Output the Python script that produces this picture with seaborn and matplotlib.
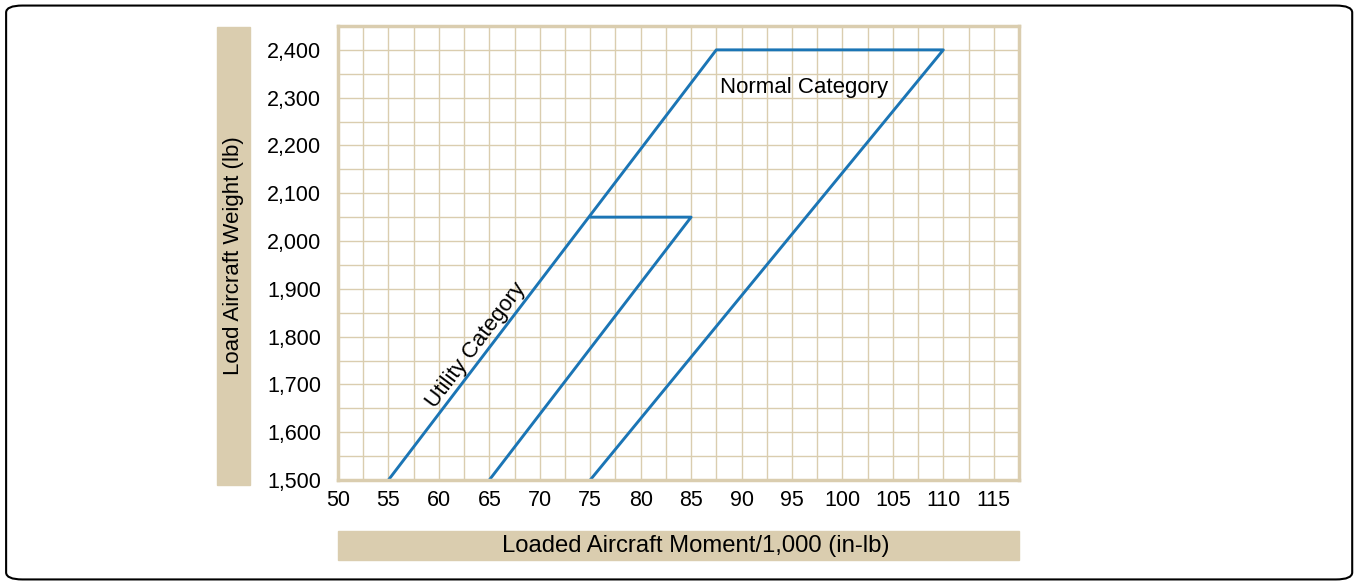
import pandas as pd
import matplotlib.pyplot as plt
import seaborn as sns
from matplotlib.patches import FancyBboxPatch, Rectangle

# envelope corners (moment/1000, weight)
normal_x = [55, 87.5, 110, 75]
normal_y = [1500, 2400, 2400, 1500]
utility_x = [75, 85, 65]
utility_y = [2050, 2050, 1500]

x_ticks = [50, 55, 60, 65, 70, 75, 80, 85, 90, 95, 100, 105, 110, 115]
y_ticks = [1500, 1600, 1700, 1800, 1900, 2000, 2100, 2200, 2300, 2400]

tan = '#dacdaf'
blue = '#1b75b5'

df = pd.concat([
    pd.DataFrame({'x': normal_x, 'y': normal_y, 'seg': 'normal'}),
    pd.DataFrame({'x': utility_x, 'y': utility_y, 'seg': 'utility'}),
])

sns.set_style('white')
plt.rcParams['font.family'] = ['Liberation Sans', 'DejaVu Sans']
plt.rcParams['text.color'] = 'black'

fig = plt.figure(figsize=(13.59, 5.85), dpi=100)
ax = fig.add_axes([0.2487, 0.1795, 0.5011, 0.7761])

sns.lineplot(data=df, x='x', y='y', units='seg', estimator=None, sort=False,
             color=blue, linewidth=2.1, ax=ax)

ax.set_xlim(50, 117.5)
ax.set_ylim(1500, 2450)
ax.set_xticks(x_ticks)
ax.set_yticks(y_ticks)
ax.set_yticklabels([f'{v:,}' for v in y_ticks])
ax.set_xticks([x + 2.5 for x in x_ticks], minor=True)
ax.set_yticks([y + 50 for y in y_ticks], minor=True)
ax.grid(True, which='both', color=tan, linewidth=1.0)
ax.set_axisbelow(True)
for s in ax.spines.values():
    s.set_color(tan)
    s.set_linewidth(2.5)
ax.tick_params(which='both', length=0, labelsize=15.5, labelcolor='black')
ax.tick_params(axis='y', pad=12)
ax.tick_params(axis='x', pad=7)
ax.set_xlabel('')
ax.set_ylabel('')

ax.text(96.2, 2322, 'Normal Category', fontsize=16, ha='center', va='center')
ax.text(63.7, 1782, 'Utility Category', fontsize=16, ha='center', va='center',
        rotation=53, rotation_mode='anchor')

# label boxes
fig.patches.append(Rectangle((0.1597, 0.171), 0.0243, 0.783, transform=fig.transFigure,
                             color=tan, zorder=0))
fig.text(0.1718, 0.5624, 'Load Aircraft Weight (lb)', rotation=90, fontsize=16,
         ha='center', va='center')
fig.patches.append(Rectangle((0.2487, 0.0427), 0.5011, 0.0496, transform=fig.transFigure,
                             color=tan, zorder=0))
fig.text(0.512, 0.0675, 'Loaded Aircraft Moment/1,000 (in-lb)', fontsize=17.2,
         ha='center', va='center')

# outer rounded frame
fig.patches.append(FancyBboxPatch((0.0045, 0.0095), 0.9905, 0.981,
                                  boxstyle='round,pad=0,rounding_size=0.012',
                                  transform=fig.transFigure, fill=False,
                                  edgecolor='black', linewidth=1.5))

plt.savefig('out.png', dpi=100)
